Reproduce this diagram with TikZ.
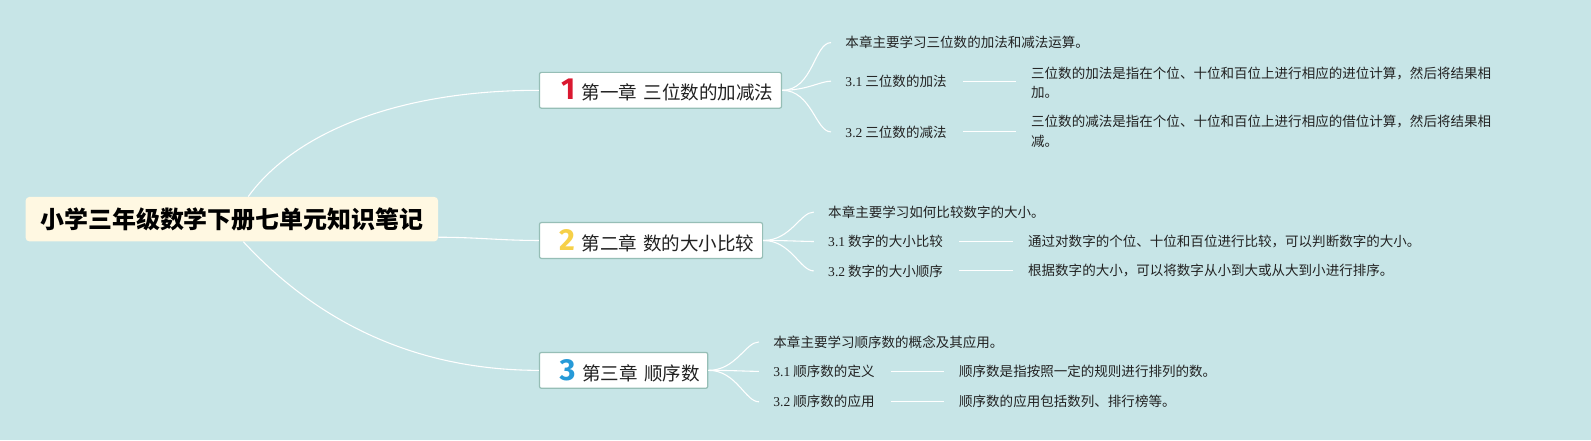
\documentclass[tikz,border=0pt]{standalone}
\usepackage{fontspec}
\setmainfont{Liberation Serif}
\newfontfamily\cjk{Noto Sans CJK SC}
\newfontfamily\numfont{Fira Sans}
\usepackage{tikz}
\definecolor{bgcol}{RGB}{199,229,231}
\definecolor{rootfill}{RGB}{255,248,226}
\definecolor{chapline}{RGB}{150,190,182}
\definecolor{numred}{RGB}{218,24,48}
\definecolor{numyellow}{RGB}{246,208,72}
\definecolor{numblue}{RGB}{38,154,216}
\definecolor{inkgray}{RGB}{34,34,34}

\begin{document}
\begin{tikzpicture} [x=0.75pt, y=-0.75pt,
                root_style/.style={rounded corners=3pt, fill=rootfill, minimum width=305pt, minimum height=33pt, inner sep=0pt, font=\cjk\bfseries\fontsize{17.7}{20}\selectfont},
                chap_style/.style={anchor=west, draw=chapline, line width=0.9pt, rounded corners=1.5pt, fill=white, minimum height=26.5pt, inner xsep=6pt, inner ysep=0pt, align=right, font=\cjk\fontsize{13.7}{16}\selectfont, text=inkgray},
                leaf_style/.style={anchor=west, inner sep=0pt, align=left, font=\cjk\fontsize{10}{14.5}\selectfont, text=inkgray},
                branch/.style={draw=white, line width=0.8pt},
                twig/.style={draw=white, line width=0.7pt, shorten <=12pt, shorten >=11pt}]
                \fill[bgcol] (0,0) rectangle (1568,434);
                \useasboundingbox (0,0) rectangle (1568,434);
                % root and chapters
                \node[root_style] (root) at (228.5,216) {小学三年级数学下册七单元知识笔记};
                \node[chap_style, text width=167pt] (c1) at (531,89) {{\numfont\bfseries\fontsize{22.5}{22}\selectfont\color{numred}1}\hspace{5pt}第一章 三位数的加减法};
                \node[chap_style, text width=153pt] (c2) at (531,237) {{\numfont\bfseries\fontsize{22.5}{22}\selectfont\color{numyellow}2}\hspace{5pt}第二章 数的大小比较};
                \node[chap_style, text width=112.5pt] (c3) at (531,365) {{\numfont\bfseries\fontsize{22.5}{22}\selectfont\color{numblue}3}\hspace{5pt}第三章 顺序数};
                \draw[branch] (root.54) .. controls +(41,-57) and +(-150,0) .. (c1.west);
                \draw[branch] (root.-5) to[out=0, in=180] (c2.west);
                \draw[branch] (root.-63) .. controls +(41,44) and +(-160,0) .. (c3.west);
                % chapter 1
                \node[leaf_style] (s10) at (833,42) {本章主要学习三位数的加法和减法运算。};
                \node[leaf_style] (s11) at (833,80) {\textrm{3.1} 三位数的加法};
                \node[leaf_style] (d11) at (1016,81.5) {三位数的加法是指在个位、十位和百位上进行相应的进位计算，然后将结果相\\加。};
                \node[leaf_style] (s12) at (833,130) {\textrm{3.2} 三位数的减法};
                \node[leaf_style] (d12) at (1016,129.5) {三位数的减法是指在个位、十位和百位上进行相应的借位计算，然后将结果相\\减。};
                % chapter 2
                \node[leaf_style] (s20) at (816,209) {本章主要学习如何比较数字的大小。};
                \node[leaf_style] (s21) at (816,238) {\textrm{3.1} 数字的大小比较};
                \node[leaf_style] (d21) at (1013,238) {通过对数字的个位、十位和百位进行比较，可以判断数字的大小。};
                \node[leaf_style] (s22) at (816,267) {\textrm{3.2} 数字的大小顺序};
                \node[leaf_style] (d22) at (1013,267) {根据数字的大小，可以将数字从小到大或从大到小进行排序。};
                % chapter 3
                \node[leaf_style] (s30) at (762,337) {本章主要学习顺序数的概念及其应用。};
                \node[leaf_style] (s31) at (762,366) {\textrm{3.1} 顺序数的定义};
                \node[leaf_style] (d31) at (945,366) {顺序数是指按照一定的规则进行排列的数。};
                \node[leaf_style] (s32) at (762,396) {\textrm{3.2} 顺序数的应用};
                \node[leaf_style] (d32) at (945,396) {顺序数的应用包括数列、排行榜等。};
                \foreach \c/\a/\b/\e in {c1/s10/s11/s12, c2/s20/s21/s22, c3/s30/s31/s32} {
                    \draw[branch, shorten >=10.5pt] (\c.east) to[out=0, in=180] (\a.west);
                    \draw[branch, shorten >=10.5pt] (\c.east) to[out=0, in=180] (\b.west);
                    \draw[branch, shorten >=10.5pt] (\c.east) to[out=0, in=180] (\e.west);
                }
                \draw[twig] (s11.east) -- (s11.east -| d11.west);
                \draw[twig] (s12.east) -- (s12.east -| d12.west);
                \draw[twig] (s21.east) -- (d21.west);
                \draw[twig] (s22.east) -- (d22.west);
                \draw[twig] (s31.east) -- (d31.west);
                \draw[twig] (s32.east) -- (d32.west);
            \end{tikzpicture}
\end{document}
